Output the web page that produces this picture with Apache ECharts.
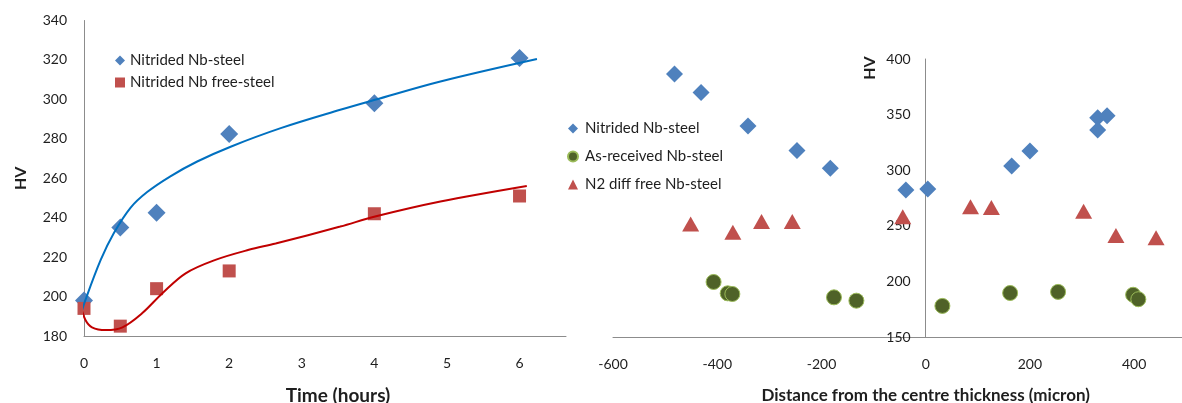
<!DOCTYPE html>
<html>
<head>
<meta charset="utf-8">
<script src="https://cdn.jsdelivr.net/npm/echarts@6/dist/echarts.min.js"></script>
<style>
html,body{margin:0;padding:0;background:#fff;}
#chart{width:1182px;height:403px;}
</style>
</head>
<body>
<div id="chart"></div>
<script>
// ---- Left chart: hardness vs nitriding time ----
const timeHours = [0, 0.5, 1, 2, 4, 6];
const nbSteelHV = [198, 235, 242.5, 282.5, 298, 321];
const nbFreeSteelHV = [194, 185, 204, 213, 242, 251];
// trend curves
const nbTrendT = [-0.07, 0.02, 0.23, 0.41, 0.64, 0.87, 1.19, 1.56, 2.02, 2.71, 3.53, 4.01, 4.91, 6.24];
const nbTrendHV = [188, 198.3, 218.6, 232.1, 245, 253, 261, 268.5, 276, 285.4, 294.7, 299.8, 309.1, 320.5];
const freeTrendT = [-0.05, 0.02, 0.11, 0.3, 0.53, 0.8, 1.08, 1.4, 1.81, 2.27, 2.64, 3.53, 4.01, 4.91, 6.1];
const freeTrendHV = [195.7, 188.1, 184.4, 183, 184.4, 191.5, 201.7, 211.8, 218.6, 223.7, 226.9, 235.5, 240.6, 248.2, 256.1];

// ---- Right chart: hardness profile across thickness ----
const nitridedX = [-482, -431, -341, -247, -183, -38, 4, 165, 200, 330, 348, 330];
const nitridedHV = [386.6, 369.8, 339.8, 317.7, 301.8, 282.3, 283.2, 303.9, 317.4, 347.3, 349.1, 336.3];
const asReceivedX = [-407, -380, -371, -176, -133, 32, 162, 254, 398, 408];
const asReceivedHV = [199.7, 189.5, 188.9, 185.9, 182.9, 178.2, 189.8, 190.8, 188.2, 184.2];
const n2FreeX = [-451, -370, -315, -256, -44, 86, 126, 303, 365, 442];
const n2FreeHV = [251.8, 244.4, 254, 254, 258.4, 267.3, 266.6, 263.3, 241.5, 239.5];

const leftLegendNames = ['Nitrided Nb-steel', 'Nitrided Nb free-steel'];
const rightLegendNames = ['Nitrided Nb-steel ', 'As-received Nb-steel', 'N2 diff free Nb-steel'];

function zip(a, b) { return a.map((v, i) => [v, b[i]]); }

const FONT = 'Lato';
const TXT = '#1e1e1e';
const AXIS = '#8c8c8c';

const chart = echarts.init(document.getElementById('chart'), null, {renderer: 'canvas'});

const axisCommon = {
  axisTick: {show: false},
  splitLine: {show: false},
  axisLine: {lineStyle: {color: AXIS, width: 1}},
  axisLabel: {color: TXT, fontFamily: FONT, fontSize: 14}
};

chart.setOption({
  backgroundColor: '#fff',
  animation: false,
  grid: [
    {left: 84, width: 482, top: 20.5, bottom: 67, outerBoundsMode: 'none', containLabel: false},
    {left: 613, width: 625.4, top: 59, bottom: 65.7, outerBoundsMode: 'none', containLabel: false}
  ],
  xAxis: [
    Object.assign({}, axisCommon, {
      gridIndex: 0, type: 'value', min: 0, max: 6.64, interval: 1,
      axisLabel: Object.assign({}, axisCommon.axisLabel, {margin: 20, showMaxLabel: false}),
      name: 'Time (hours)', nameLocation: 'middle', nameGap: 50,
      nameTextStyle: {color: TXT, fontFamily: FONT, fontWeight: 'bold', fontSize: 19, padding: [0, 0, 0, 26]}
    }),
    Object.assign({}, axisCommon, {
      gridIndex: 1, type: 'value', min: -600, max: 600, interval: 200,
      axisLabel: Object.assign({}, axisCommon.axisLabel, {margin: 20}),
      name: 'Distance from the centre thickness (micron)', nameLocation: 'middle', nameGap: 50,
      nameTextStyle: {color: TXT, fontFamily: FONT, fontWeight: 'bold', fontSize: 17}
    })
  ],
  yAxis: [
    Object.assign({}, axisCommon, {
      gridIndex: 0, type: 'value', min: 180, max: 340, interval: 20,
      axisLabel: Object.assign({}, axisCommon.axisLabel, {margin: 17}),
      name: 'HV', nameLocation: 'middle', nameGap: 55, nameRotate: 90,
      nameTextStyle: {color: TXT, fontFamily: FONT, fontWeight: 'bold', fontSize: 16}
    }),
    Object.assign({}, axisCommon, {
      gridIndex: 1, type: 'value', min: 150, max: 400, interval: 50,
      position: 'left', offset: -312.7,
      axisLine: {onZero: false, lineStyle: {color: AXIS, width: 1}},
      axisLabel: Object.assign({}, axisCommon.axisLabel, {margin: 15})
    })
  ],
  legend: [
    {
      data: [
        {name: leftLegendNames[0], icon: 'diamond'},
        {name: leftLegendNames[1], icon: 'rect'}
      ],
      orient: 'vertical', left: 110, top: 48, itemWidth: 10, itemHeight: 10, itemGap: 7,
      textStyle: {color: TXT, fontFamily: FONT, fontSize: 15}
    },
    {
      data: [
        {name: rightLegendNames[0], icon: 'diamond'},
        {name: rightLegendNames[1], icon: 'circle'},
        {name: rightLegendNames[2], icon: 'triangle'}
      ],
      orient: 'vertical', left: 562, top: 116, itemWidth: 10, itemHeight: 10, itemGap: 13,
      textStyle: {color: TXT, fontFamily: FONT, fontSize: 15, padding: [0, 0, 0, 2]}
    }
  ],
  graphic: [{
    type: 'text', x: 870, y: 68, rotation: Math.PI / 2,
    style: {text: 'HV', fill: TXT, font: 'bold 16px ' + FONT, textAlign: 'center', textVerticalAlign: 'middle', align: 'center', verticalAlign: 'middle'}
  }],
  series: [
    {
      name: 'nbTrend', type: 'line', xAxisIndex: 0, yAxisIndex: 0, data: zip(nbTrendT, nbTrendHV),
      smooth: 0.35, showSymbol: false, clip: false, silent: true,
      lineStyle: {color: '#0070C0', width: 2}, z: 3
    },
    {
      name: 'freeTrend', type: 'line', xAxisIndex: 0, yAxisIndex: 0, data: zip(freeTrendT, freeTrendHV),
      smooth: 0.35, showSymbol: false, clip: false, silent: true,
      lineStyle: {color: '#C00000', width: 2}, z: 3
    },
    {
      name: leftLegendNames[0], type: 'scatter', xAxisIndex: 0, yAxisIndex: 0,
      data: zip(timeHours, nbSteelHV), symbol: 'diamond', symbolSize: 18,
      itemStyle: {color: '#4F81BD', opacity: 1}, z: 2
    },
    {
      name: leftLegendNames[1], type: 'scatter', xAxisIndex: 0, yAxisIndex: 0,
      data: zip(timeHours, nbFreeSteelHV), symbol: 'rect', symbolSize: 13,
      itemStyle: {color: '#C0504D', opacity: 1}, z: 2
    },
    {
      name: rightLegendNames[0], type: 'scatter', xAxisIndex: 1, yAxisIndex: 1,
      data: zip(nitridedX, nitridedHV), symbol: 'diamond', symbolSize: 17,
      itemStyle: {color: '#4F81BD', opacity: 1}
    },
    {
      name: rightLegendNames[1], type: 'scatter', xAxisIndex: 1, yAxisIndex: 1,
      data: zip(asReceivedX, asReceivedHV), symbol: 'circle', symbolSize: 15,
      itemStyle: {color: '#4F6228', borderColor: '#9BBB59', borderWidth: 1, opacity: 1}
    },
    {
      name: rightLegendNames[2], type: 'scatter', xAxisIndex: 1, yAxisIndex: 1,
      data: zip(n2FreeX, n2FreeHV), symbol: 'triangle', symbolSize: [17, 15],
      itemStyle: {color: '#C0504D', opacity: 1}
    }
  ]
});
</script>
</body>
</html>
